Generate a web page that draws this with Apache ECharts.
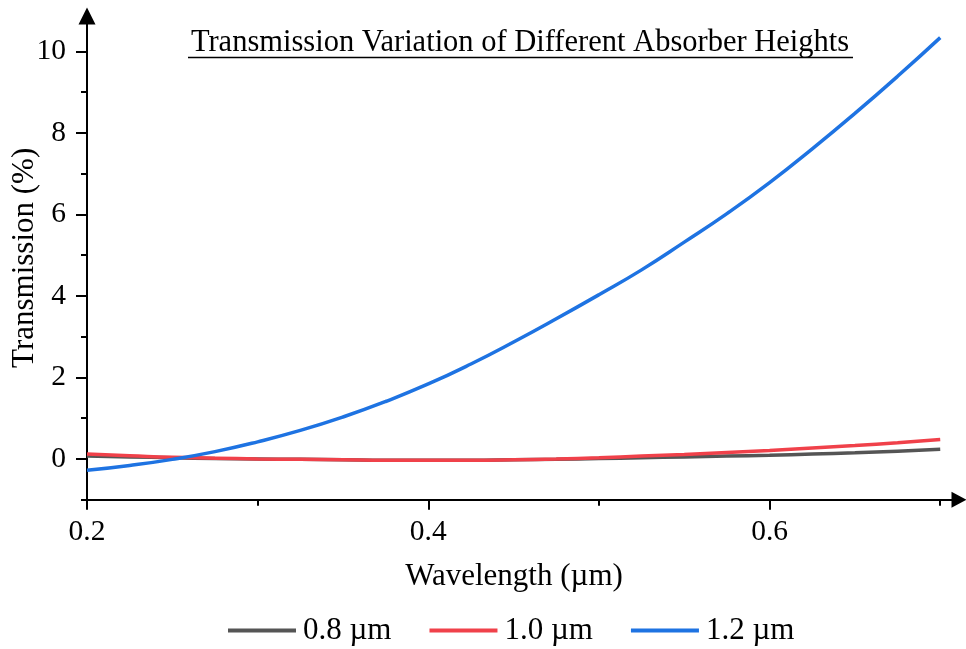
<!DOCTYPE html>
<html>
<head>
<meta charset="utf-8">
<script src="https://cdn.jsdelivr.net/npm/echarts@6/dist/echarts.min.js"></script>
<style>html,body{margin:0;padding:0;background:#fff}#c{width:966px;height:649px}</style>
</head>
<body>
<div id="c"></div>
<script>
var wavelength = [0.200,0.225,0.250,0.275,0.300,0.325,0.350,0.375,0.400,0.425,0.450,0.475,0.500,0.525,0.550,0.575,0.600,0.625,0.650,0.675,0.700];
var h08 = [0.07,0.05,0.03,0.01,0.00,-0.01,-0.02,-0.03,-0.03,-0.03,-0.02,-0.01,0.01,0.03,0.05,0.07,0.09,0.12,0.15,0.19,0.24];
var h10 = [0.12,0.08,0.04,0.02,0.00,-0.01,-0.02,-0.03,-0.03,-0.03,-0.02,0.00,0.03,0.07,0.11,0.16,0.21,0.27,0.33,0.40,0.48];
var h12 = [-0.28,-0.16,-0.01,0.18,0.42,0.70,1.03,1.41,1.84,2.33,2.87,3.44,4.03,4.64,5.32,6.02,6.78,7.61,8.48,9.39,10.34];
var seriesNames = ['0.8 \u00b5m','1.0 \u00b5m','1.2 \u00b5m'];
var xMajorTicks = [0.2,0.4,0.6];
var xMinorTicks = [0.3,0.5,0.7];
var yMajorTicks = [0,2,4,6,8,10];
var yMinorTicks = [-1,1,3,5,7,9];
var titleText = 'Transmission Variation of Different Absorber Heights';

function zip(xs, ys){ return xs.map(function(x,i){ return [x, ys[i]]; }); }

var FONT = "'Liberation Serif','Times New Roman',serif";
var chart = echarts.init(document.getElementById('c'));
var axisLineStyle = {color:'#000', width:2};
var xMin = 0.2, xMax = 0.711, yMin = -1, yMax = 10.87;

var option = {
  backgroundColor:'#fff',
  animation:false,
  textStyle:{fontFamily:FONT},
  grid:{left:87, right:7, top:16, bottom:149.3, containLabel:false, outerBoundsMode:'none'},
  graphic:[
    {type:'text', x:520, y:43, style:{text:titleText, fontFamily:FONT, fontSize:30.5, fill:'#000', align:'center', verticalAlign:'middle'}},
    {type:'line', shape:{x1:188, y1:57.5, x2:853, y2:57.5}, style:{stroke:'#000', lineWidth:1.5}}
  ],
  legend:{
    top:615, left:228, padding:0,
    icon:'rect', itemWidth:68, itemHeight:4, itemGap:38,
    textStyle:{fontFamily:FONT, fontSize:31, color:'#000', padding:[0,0,0,2]},
    data:seriesNames
  },
  xAxis:[
    {type:'value', min:xMin, max:xMax, position:'bottom',
     name:'Wavelength (\u00b5m)', nameLocation:'middle', nameGap:62, nameMoveOverlap:false,
     nameTextStyle:{fontFamily:FONT, fontSize:31, color:'#000', padding:[0,18,0,0]},
     axisLine:{show:true, onZero:false, symbol:['none','triangle'], symbolSize:[16,15], lineStyle:axisLineStyle},
     axisTick:{show:true, customValues:xMajorTicks, length:10, lineStyle:{color:'#000', width:2}},
     axisLabel:{customValues:xMajorTicks, margin:18, fontFamily:FONT, fontSize:29.5, color:'#000', formatter:function(v){return v.toFixed(1);}},
     splitLine:{show:false}},
    {type:'value', min:xMin, max:xMax, position:'bottom',
     axisLine:{show:false, onZero:false},
     axisTick:{show:true, customValues:xMinorTicks, length:6, lineStyle:{color:'#000', width:2}},
     axisLabel:{show:false}, splitLine:{show:false}}
  ],
  yAxis:[
    {type:'value', min:yMin, max:yMax, position:'left',
     name:'Transmission (%)', nameLocation:'middle', nameGap:47, nameMoveOverlap:false,
     nameTextStyle:{fontFamily:FONT, fontSize:31, color:'#000'},
     axisLine:{show:true, onZero:false, symbol:['none','triangle'], symbolSize:[17,17], lineStyle:axisLineStyle},
     axisTick:{show:true, customValues:yMajorTicks, length:11, lineStyle:{color:'#000', width:2}},
     axisLabel:{customValues:yMajorTicks, margin:21, fontFamily:FONT, fontSize:29.5, color:'#000'},
     splitLine:{show:false}},
    {type:'value', min:yMin, max:yMax, position:'left',
     axisLine:{show:false, onZero:false},
     axisTick:{show:true, customValues:yMinorTicks, length:6, lineStyle:{color:'#000', width:2}},
     axisLabel:{show:false}, splitLine:{show:false}}
  ],
  series:[
    {name:seriesNames[0], type:'line', xAxisIndex:0, yAxisIndex:0, data:zip(wavelength,h08), smooth:true, showSymbol:false, symbol:'none', lineStyle:{color:'#555555', width:3.5}, itemStyle:{color:'#555555'}, z:2},
    {name:seriesNames[1], type:'line', xAxisIndex:0, yAxisIndex:0, data:zip(wavelength,h10), smooth:true, showSymbol:false, symbol:'none', lineStyle:{color:'#F0414A', width:3.5}, itemStyle:{color:'#F0414A'}, z:3},
    {name:seriesNames[2], type:'line', xAxisIndex:0, yAxisIndex:0, data:zip(wavelength,h12), smooth:true, showSymbol:false, symbol:'none', lineStyle:{color:'#1E73E2', width:3.5}, itemStyle:{color:'#1E73E2'}, z:4}
  ]
};
chart.setOption(option);
</script>
</body>
</html>
